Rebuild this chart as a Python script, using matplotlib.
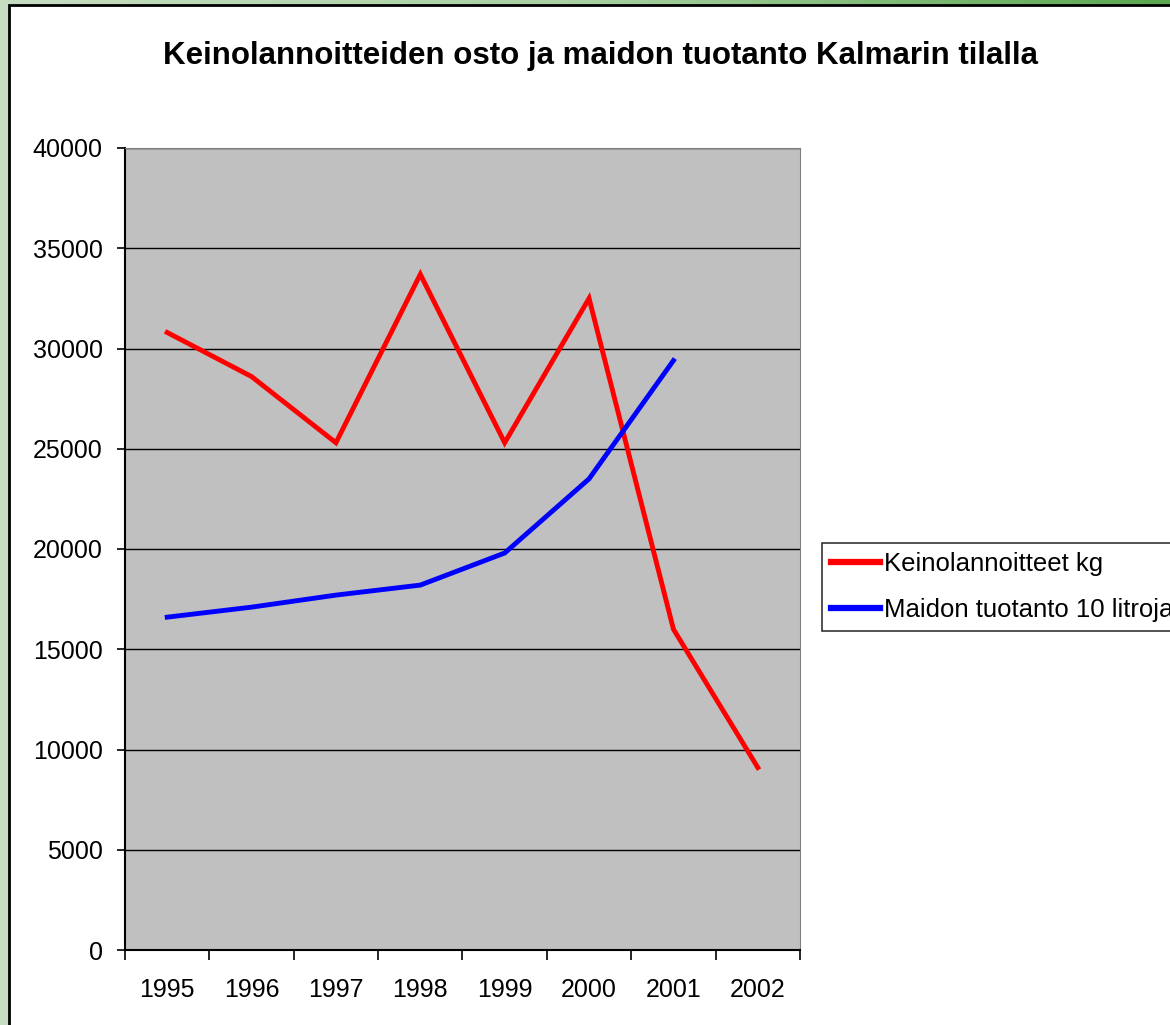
import numpy as np
import matplotlib
matplotlib.use("Agg")
import matplotlib.pyplot as plt
from matplotlib.colors import LinearSegmentedColormap
from matplotlib.patches import Rectangle

years = ["1995", "1996", "1997", "1998", "1999", "2000", "2001", "2002"]
fertilizer = [30800, 28600, 25300, 33700, 25300, 32500, 16000, 9100]
milk = [16600, 17100, 17700, 18200, 19800, 23500, 29400]
y_ticks = [0, 5000, 10000, 15000, 20000, 25000, 30000, 35000, 40000]

plt.rcParams["font.family"] = ["Liberation Sans", "DejaVu Sans"]

fig = plt.figure(figsize=(11.7, 10.25), dpi=100)

# vihreä taustaliukuma
bg = fig.add_axes([0, 0, 1, 1], zorder=-10)
grad = np.linspace(0, 1, 256).reshape(1, -1)
cmap = LinearSegmentedColormap.from_list("bg", ["#c6ddc2", "#a9d0a2", "#5aa74f"])
bg.imshow(grad, aspect="auto", cmap=cmap, extent=[0, 1, 0, 1])
bg.set_axis_off()

# valkoinen kaaviopohja
fig.patches.append(Rectangle((9 / 1170, -0.01), 1.02, 1 - 5 / 1025 + 0.01,
                             transform=fig.transFigure, facecolor="white",
                             edgecolor="black", linewidth=2, zorder=-5))

fig.text(0.513, 0.945, "Keinolannoitteiden osto ja maidon tuotanto Kalmarin tilalla",
         ha="center", va="center", fontsize=22.5, fontweight="bold")

ax = fig.add_axes([125 / 1170, 1 - 950 / 1025, 675 / 1170, 802 / 1025])
ax.set_facecolor("#c0c0c0")

x = np.arange(len(years))
ax.plot(x, fertilizer, color="#ff0000", lw=3.5, label="Keinolannoitteet kg",
        solid_joinstyle="miter")
ax.plot(x[:len(milk)], milk, color="#0000ff", lw=3.5,
        label="Maidon tuotanto 10 litroja", solid_joinstyle="miter")

ax.set_xlim(-0.5, len(years) - 0.5)
ax.set_ylim(0, 40000)
ax.set_yticks(y_ticks)
ax.set_yticklabels([str(v) for v in y_ticks])
ax.yaxis.grid(True, color="black", linewidth=1)
ax.set_axisbelow(True)

ax.set_xticks(np.arange(len(years) + 1) - 0.5)
ax.set_xticklabels([])
ax.set_xticks(x, minor=True)
ax.set_xticklabels(years, minor=True)
ax.tick_params(axis="x", which="major", length=7, width=1.2, color="black", direction="out")
ax.tick_params(axis="x", which="minor", length=0, pad=20, labelsize=18)
ax.tick_params(axis="y", length=6, width=1.2, direction="out", pad=10, labelsize=18)

ax.spines["left"].set_linewidth(1.5)
ax.spines["bottom"].set_linewidth(1.5)
ax.spines["top"].set_color("#808080")
ax.spines["right"].set_color("#808080")

leg = fig.legend(loc="upper left", bbox_to_anchor=(822 / 1170, 1 - 543 / 1025),
                 fontsize=18.5, frameon=True, fancybox=False, handlelength=1.9,
                 handletextpad=0.15, borderpad=0.35, labelspacing=0.85,
                 borderaxespad=0)
leg.get_frame().set_edgecolor("black")
leg.get_frame().set_linewidth(1.2)
for line in leg.get_lines():
    line.set_linewidth(4.5)

fig.savefig("out.png", dpi=100)
